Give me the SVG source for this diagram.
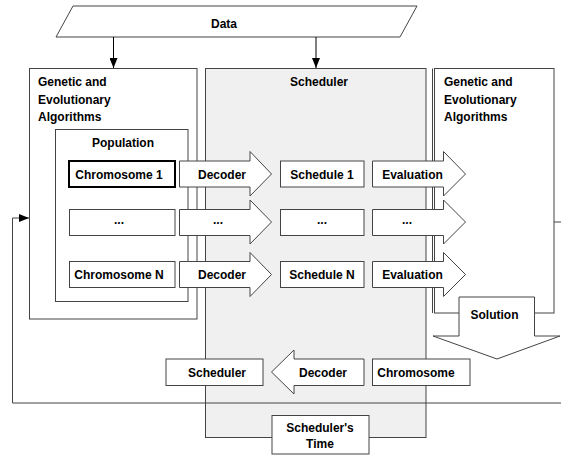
<svg xmlns="http://www.w3.org/2000/svg" width="561" height="456" viewBox="0 0 561 456">
<defs>
<style>
.b{fill:#fff;stroke:#444;stroke-width:1}
.t{font-family:"Liberation Sans",Arial,Helvetica,sans-serif;font-weight:bold;font-size:12px;fill:#000}
.c{text-anchor:middle}
.ln{fill:none;stroke:#444;stroke-width:1}
</style>
<marker id="ah" markerWidth="10" markerHeight="8" refX="10" refY="4" orient="auto" markerUnits="userSpaceOnUse">
<path d="M0,0 L10,4 L0,8 z" fill="#000"/>
</marker>
</defs>
<rect width="561" height="456" fill="#fff"/>

<g id="data">
<polygon points="73,6 417,6 400,37 56,37" class="b" stroke="#222"/>
<text x="224" y="28" class="t c">Data</text>
</g>

<g id="gea-left">
<rect x="29.5" y="68.5" width="167.5" height="250.5" class="b"/>
<text x="38" y="86" class="t">Genetic and</text>
<text x="38" y="103.5" class="t">Evolutionary</text>
<text x="38" y="121" class="t">Algorithms</text>
</g>

<g id="population">
<rect x="55.5" y="129.5" width="132.5" height="172" class="b"/>
<text x="123" y="147" class="t c">Population</text>
</g>

<g id="scheduler-box">
<rect x="205.5" y="68.5" width="220.5" height="369" fill="#f0f0f0" stroke="#444" stroke-width="1"/>
<text x="290" y="86" class="t">Scheduler</text>
</g>

<g id="gea-right">
<rect x="434.5" y="68.5" width="119.5" height="244.5" class="b"/>
<line x1="432.5" y1="68.5" x2="432.5" y2="313" class="ln"/>
<text x="444" y="86" class="t">Genetic and</text>
<text x="444" y="103.5" class="t">Evolutionary</text>
<text x="444" y="121" class="t">Algorithms</text>
</g>

<g id="chromosome1">
<rect x="69" y="161" width="106" height="26" fill="#fff" stroke="#000" stroke-width="2"/>
<text x="119" y="178.5" class="t c">Chromosome 1</text>
</g>
<g id="chromosome-dots">
<rect x="69.5" y="209.5" width="105.5" height="26" class="b"/>
<text x="119" y="224" class="t c">...</text>
</g>
<g id="chromosomeN">
<rect x="69.5" y="261.5" width="105.5" height="26" class="b"/>
<text x="119" y="279" class="t c">Chromosome N</text>
</g>

<g id="decoder1">
<polygon points="179.5,161 250,161 250,151.5 271.5,174 250,196 250,187 179.5,187" class="b"/>
<text x="222" y="178.5" class="t c">Decoder</text>
</g>
<g id="decoder-dots">
<polygon points="179.5,209.5 250,209.5 250,200 271.5,222 250,244 250,235.5 179.5,235.5" class="b"/>
<text x="218" y="224" class="t c">...</text>
</g>
<g id="decoderN">
<polygon points="179.5,261.5 250,261.5 250,252.5 271.5,274.5 250,296.5 250,287.5 179.5,287.5" class="b"/>
<text x="222" y="279" class="t c">Decoder</text>
</g>

<g id="schedule1">
<rect x="280.5" y="161" width="83.5" height="26" class="b"/>
<text x="322" y="178.5" class="t c">Schedule 1</text>
</g>
<g id="schedule-dots">
<rect x="280.5" y="209.5" width="83.5" height="26" class="b"/>
<text x="322" y="224" class="t c">...</text>
</g>
<g id="scheduleN">
<rect x="280.5" y="261.5" width="83.5" height="26" class="b"/>
<text x="322" y="279" class="t c">Schedule N</text>
</g>

<g id="evaluation1">
<polygon points="372.5,161 443.5,161 443.5,151.5 465.5,174 443.5,196 443.5,187 372.5,187" class="b"/>
<text x="412.5" y="178.5" class="t c">Evaluation</text>
</g>
<g id="evaluation-dots">
<polygon points="372.5,209.5 443.5,209.5 443.5,200 465.5,222 443.5,244 443.5,235.5 372.5,235.5" class="b"/>
<text x="407" y="224" class="t c">...</text>
</g>
<g id="evaluationN">
<polygon points="372.5,261.5 443.5,261.5 443.5,252.5 465.5,274.5 443.5,296.5 443.5,287.5 372.5,287.5" class="b"/>
<text x="412.5" y="279" class="t c">Evaluation</text>
</g>

<g id="solution">
<polygon points="459,297 534.5,297 534.5,336 560,336 497,359 433,336 459,336" class="b"/>
<text x="494.5" y="318.5" class="t c">Solution</text>
</g>

<g id="scheduler-out">
<rect x="166" y="359" width="97" height="26.5" class="b"/>
<text x="217" y="376.5" class="t c">Scheduler</text>
</g>
<g id="decoder-back">
<polygon points="364,359 294,359 294,350 271.5,372 294,394 294,385.5 364,385.5" class="b"/>
<text x="323" y="376.5" class="t c">Decoder</text>
</g>
<g id="chromosome-in">
<rect x="372.5" y="359" width="97.5" height="26.5" class="b"/>
<text x="416" y="376.5" class="t c">Chromosome</text>
</g>

<g id="scheduler-time">
<rect x="272" y="415.5" width="97" height="38.5" class="b"/>
<text x="320" y="432" class="t c">Scheduler's</text>
<text x="320" y="447.5" class="t c">Time</text>
</g>

<g id="connectors">
<line x1="113.5" y1="37" x2="113.5" y2="68" stroke="#000" stroke-width="1" marker-end="url(#ah)"/>
<line x1="316" y1="37" x2="316" y2="68" stroke="#000" stroke-width="1" marker-end="url(#ah)"/>
<polyline points="554,222 562,222" class="ln"/>
<polyline points="562,403 12.5,403 12.5,218 29,218" fill="none" stroke="#444" stroke-width="1" marker-end="url(#ah)"/>
</g>
</svg>
